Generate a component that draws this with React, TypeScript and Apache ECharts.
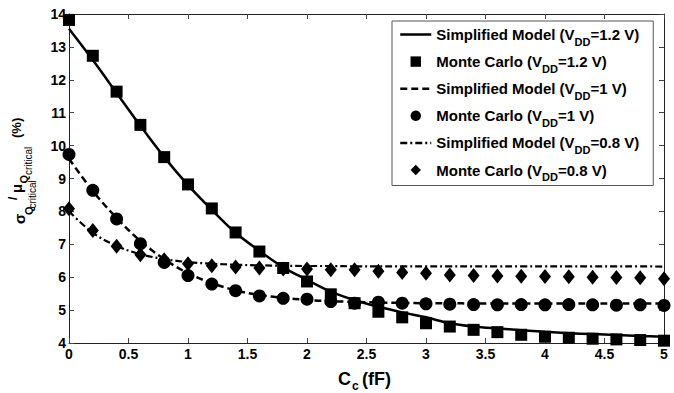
import React, { useEffect, useRef } from 'react';
import * as echarts from 'echarts';

const FONT = 'Liberation Sans, Arial, Helvetica, sans-serif';

// Coupling capacitance Cc (fF)
const capacitance = [0, 0.2, 0.4, 0.6, 0.8, 1, 1.2, 1.4, 1.6, 1.8, 2, 2.2, 2.4, 2.6, 2.8, 3, 3.2, 3.4, 3.6, 3.8, 4, 4.2, 4.4, 4.6, 4.8, 5];

// Simplified model curves (%)
const model12 = [13.55, 12.6, 11.6, 10.6, 9.65, 8.8, 8.05, 7.35, 6.8, 6.3, 5.92, 5.56, 5.3, 5.1, 4.93, 4.78, 4.6, 4.5, 4.44, 4.39, 4.34, 4.3, 4.27, 4.24, 4.21, 4.19];
const model10 = [9.6, 8.62, 7.8, 7.1, 6.55, 6.12, 5.82, 5.6, 5.46, 5.37, 5.31, 5.27, 5.25, 5.23, 5.22, 5.21, 5.21, 5.2, 5.2, 5.2, 5.2, 5.2, 5.2, 5.2, 5.2, 5.2];
const model08 = [8.0, 7.35, 6.95, 6.7, 6.55, 6.46, 6.41, 6.38, 6.36, 6.35, 6.34, 6.34, 6.33, 6.33, 6.33, 6.33, 6.33, 6.33, 6.33, 6.33, 6.33, 6.33, 6.33, 6.33, 6.33, 6.32];

// Monte Carlo results (%)
const mc12 = [13.82, 12.73, 11.64, 10.63, 9.65, 8.82, 8.09, 7.36, 6.78, 6.28, 5.87, 5.48, 5.21, 4.95, 4.78, 4.6, 4.5, 4.4, 4.33, 4.25, 4.19, 4.16, 4.13, 4.11, 4.09, 4.07];
const mc10 = [9.73, 8.64, 7.77, 7.02, 6.45, 6.05, 5.79, 5.59, 5.43, 5.36, 5.33, 5.26, 5.21, 5.24, 5.21, 5.19, 5.18, 5.17, 5.16, 5.17, 5.16, 5.17, 5.16, 5.15, 5.16, 5.14];
const mc08 = [8.08, 7.42, 6.94, 6.68, 6.53, 6.41, 6.35, 6.31, 6.28, 6.25, 6.25, 6.23, 6.23, 6.18, 6.14, 6.12, 6.07, 6.05, 6.04, 6.03, 6.02, 6.01, 6.0, 5.99, 5.98, 5.95];

const seriesNames = [
  'Simplified Model (VDD=1.2 V)',
  'Monte Carlo (VDD=1.2 V)',
  'Simplified Model (VDD=1 V)',
  'Monte Carlo (VDD=1 V)',
  'Simplified Model (VDD=0.8 V)',
  'Monte Carlo (VDD=0.8 V)',
];

const pairs = (ys: number[]) => capacitance.map((x, i) => [x, ys[i]]);

export default function App() {
  const ref = useRef<HTMLDivElement>(null);

  useEffect(() => {
    const chart = echarts.init(ref.current!, null, { renderer: 'svg' });

    const axisCommon = {
      axisLine: { show: true, onZero: false, lineStyle: { color: '#222', width: 1 } },
      axisTick: { show: true, inside: true, length: 5, lineStyle: { color: '#444', width: 1 } },
      splitLine: { show: false },
    };

    const labelStyle = { color: '#000', fontSize: 14, fontWeight: 'bold', fontFamily: FONT };

    const mkText = (text: string, x: number, y: number, size: number, weight: string, rotated: boolean) => ({
      type: 'text',
      x,
      y,
      rotation: rotated ? Math.PI / 2 : 0,
      silent: true,
      style: {
        text,
        fontSize: size,
        fontWeight: weight,
        fontFamily: FONT,
        fill: '#000',
        align: 'left',
        verticalAlign: 'middle',
        textAlign: 'left',
        textVerticalAlign: 'middle',
      },
    });

    const option: any = {
      animation: false,
      backgroundColor: '#fff',
      grid: { left: 69, right: 10, top: 14, bottom: 50, containLabel: false },
      xAxis: [
        {
          type: 'value', min: 0, max: 5, interval: 0.5, position: 'bottom',
          ...axisCommon,
          axisLabel: { ...labelStyle, margin: 4 },
        },
        {
          type: 'value', min: 0, max: 5, interval: 0.5, position: 'top',
          ...axisCommon,
          axisLabel: { show: false },
        },
      ],
      yAxis: [
        {
          type: 'value', min: 4, max: 14, interval: 1, position: 'left',
          ...axisCommon,
          axisLabel: { ...labelStyle, margin: 3 },
        },
        {
          type: 'value', min: 4, max: 14, interval: 1, position: 'right',
          ...axisCommon,
          axisLabel: { show: false },
        },
      ],
      legend: {
        orient: 'vertical',
        left: 392,
        top: 21,
        padding: [1, 14, 3, 7],
        itemGap: 2.1,
        itemWidth: 31,
        itemHeight: 13,
        borderColor: '#555',
        borderWidth: 1,
        backgroundColor: '#fff',
        lineStyle: { width: 2.5 },
        data: seriesNames.map((name, i) =>
          i % 2 === 0
            ? { name, itemStyle: { opacity: 0 } }
            : { name, lineStyle: { opacity: 0 } }
        ),
        formatter: (name: string) => {
          const parts = name.split('VDD');
          return `{m|${parts[0]}V}{s|DD}{m|${parts[1]}}`;
        },
        textStyle: {
          color: '#000',
          fontFamily: FONT,
          rich: {
            m: { fontSize: 15, fontWeight: 'bold', color: '#000', fontFamily: FONT, lineHeight: 18 },
            s: { fontSize: 11, fontWeight: 'bold', color: '#000', fontFamily: FONT, lineHeight: 18, padding: [14, 0, 0, 0] },
          },
        },
      },
      series: [
        {
          name: seriesNames[0], type: 'line', data: pairs(model12), symbol: 'none', smooth: 0.35,
          lineStyle: { color: '#000', width: 2.5, type: 'solid' }, itemStyle: { color: '#000' }, z: 2,
        },
        {
          name: seriesNames[1], type: 'line', data: pairs(mc12), symbol: 'rect', symbolSize: 12, showAllSymbol: true,
          lineStyle: { opacity: 0, width: 0 }, itemStyle: { color: '#000' }, z: 3,
        },
        {
          name: seriesNames[2], type: 'line', data: pairs(model10), symbol: 'none', smooth: 0.35,
          lineStyle: { color: '#000', width: 2.5, type: [7, 4] }, itemStyle: { color: '#000' }, z: 2,
        },
        {
          name: seriesNames[3], type: 'line', data: pairs(mc10), symbol: 'circle', symbolSize: 13, showAllSymbol: true,
          lineStyle: { opacity: 0, width: 0 }, itemStyle: { color: '#000' }, z: 3,
        },
        {
          name: seriesNames[4], type: 'line', data: pairs(model08), symbol: 'none', smooth: 0.35,
          lineStyle: { color: '#000', width: 2.2, type: [7, 3, 2, 3] }, itemStyle: { color: '#000' }, z: 4,
        },
        {
          name: seriesNames[5], type: 'line', data: pairs(mc08), symbol: 'diamond', symbolSize: [12, 15], showAllSymbol: true,
          lineStyle: { opacity: 0, width: 0 }, itemStyle: { color: '#000' }, z: 3,
        },
      ],
      graphic: [
        // y-axis title: σ_Q_critical / μ_Q_critical (%)
        mkText('σ', 19, 224, 15, 'bold', true),
        mkText('Q', 28.5, 215, 11, 'bold', true),
        mkText('critical', 32, 208.5, 10, 'normal', true),
        mkText('/', 13, 200, 12, 'bold', true),
        mkText('μ', 16.5, 193, 15, 'bold', true),
        mkText('Q', 23.5, 183.5, 11, 'bold', true),
        mkText('critical', 28.5, 175, 10, 'normal', true),
        mkText('(%)', 16.5, 138, 13, 'bold', true),
        // x-axis title: C_c (fF)
        mkText('C', 338, 379, 18, 'bold', false),
        mkText('c', 352, 385.5, 12, 'bold', false),
        mkText('(fF)', 362, 378.5, 18, 'bold', false),
      ],
    };

    chart.setOption(option);
    return () => chart.dispose();
  }, []);

  return (
    <div
      ref={ref}
      style={{ position: 'fixed', left: 0, top: 0, width: 674, height: 393, background: '#fff' }}
    />
  );
}
